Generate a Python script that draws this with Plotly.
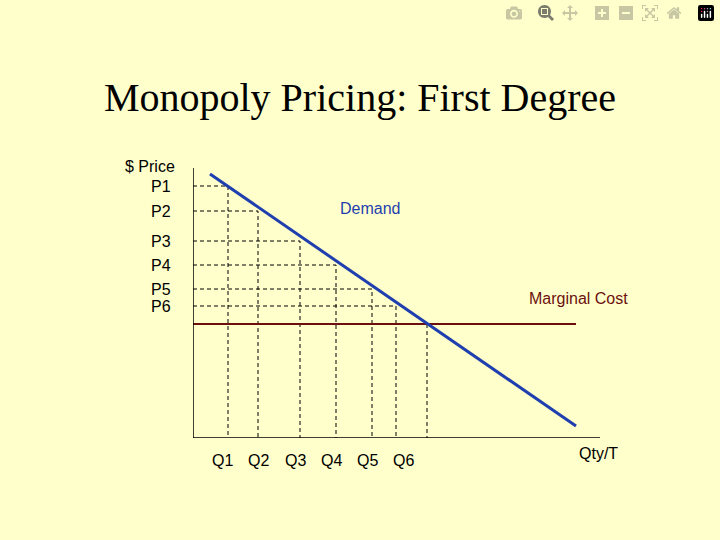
import plotly.graph_objects as go

# values (pixel-scaled units)
quantities = [35, 65, 107, 143, 179, 203]
prices = [252, 227, 197, 173, 149, 132]
q_labels = ["Q1", "Q2", "Q3", "Q4", "Q5", "Q6"]
p_labels = ["P1", "P2", "P3", "P4", "P5", "P6"]
demand_x = [17, 383]
demand_y = [264, 12]
mc_price = 114
mc_x = [0, 383]
q_star = 234

BG = "#FFFFCC"
BLUE = "#1F3FAF"
RED = "#6B0F0F"
FONT = "Liberation Sans, Arial, sans-serif"
X_MAX, Y_MAX = 420, 278

fig = go.Figure()

dash = dict(color="black", width=1, dash="4px,3px")
for q, p in zip(quantities, prices):
    fig.add_trace(go.Scatter(x=[0, q, q], y=[p, p, 0], mode="lines", line=dash,
                             hoverinfo="skip"))
fig.add_trace(go.Scatter(x=[q_star, q_star], y=[mc_price, 0], mode="lines", line=dash))

fig.add_trace(go.Scatter(x=mc_x, y=[mc_price, mc_price], mode="lines",
                         line=dict(color=RED, width=2)))
fig.add_trace(go.Scatter(x=demand_x, y=demand_y, mode="lines",
                         line=dict(color=BLUE, width=3)))

# axes
fig.add_trace(go.Scatter(x=[0, 0, 407], y=[270, 0, 0], mode="lines",
                         line=dict(color="black", width=1.5)))


def note(x, y, text, anchor="center", color="black"):
    return dict(x=x / X_MAX, y=y / Y_MAX, xref="paper", yref="paper", text=text,
                showarrow=False, xanchor=anchor, yanchor="middle",
                font=dict(family=FONT, size=16, color=color))


ann = [note(-16, 272, "$ Price", "right")]
for p, lab in zip(prices, p_labels):
    ann.append(note(-20, p, lab, "right"))
q_text_x = [29, 65, 102, 138, 174, 210]
for qx, lab in zip(q_text_x, q_labels):
    ann.append(note(qx, -22, lab))
ann.append(note(177, 230, "Demand", color=BLUE))
ann.append(note(385, 140, "Marginal Cost", color=RED))
ann.append(note(405, -15, "Qty/T"))

fig.update_layout(
    width=720, height=540,
    paper_bgcolor=BG, plot_bgcolor=BG,
    showlegend=False,
    margin=dict(l=193, r=107, t=160, b=102),
    title=dict(text="Monopoly Pricing: First Degree", x=0.5, xref="container",
               y=0.82, yref="container", yanchor="middle",
               font=dict(family="Liberation Serif, Times New Roman, serif", size=40,
                         color="black")),
    xaxis=dict(range=[0, X_MAX], visible=False),
    yaxis=dict(range=[0, Y_MAX], visible=False),
    annotations=ann,
)

fig.write_html("out.html",
               post_script="document.body.style.margin='0';"
                           "document.body.style.background='#FFFFCC';")
